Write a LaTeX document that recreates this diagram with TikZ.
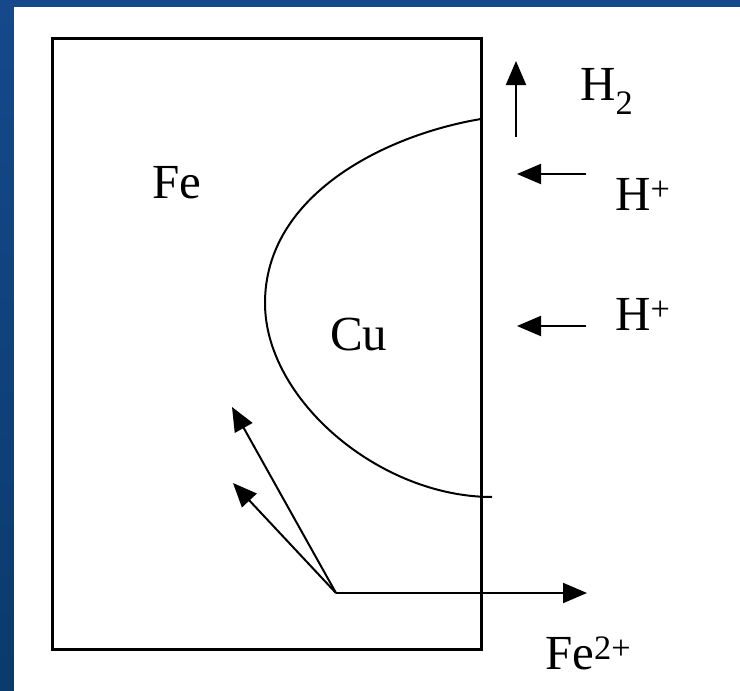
\documentclass[tikz,border=0pt]{standalone}
\usepackage{fontspec}
\setmainfont{Liberation Serif}
\usetikzlibrary{arrows.meta}
\definecolor{bgblue}{HTML}{15498B}
\definecolor{bgdark}{HTML}{0B3A6C}
\tikzset{
  lbl/.style={anchor=base west, inner sep=0pt, font=\fontsize{49}{60}\selectfont},
  arr/.style={line width=2pt, -{Triangle[length=24pt, width=20pt]}},
  wall/.style={line width=2.6pt},
  curve/.style={line width=2pt}
}
\begin{document}
\begin{tikzpicture}[x=1pt,y=-1pt]
\useasboundingbox (0,0) rectangle (740,691);
\shade[top color=bgblue, bottom color=bgdark] (0,0) rectangle (740,691);
\fill[white] (14,7) rectangle (740,691);
% metal block
\node[wall, draw, minimum width=429pt, minimum height=611pt, inner sep=0pt, anchor=north west] (block) at (51,37) {};
% Cu region boundary
\coordinate (ctop) at (481,119);
\coordinate (cleft) at (265,303);
\coordinate (cbot) at (492,497);
\draw[curve] (ctop) .. controls (385,135) and (265,195) .. (cleft)
  .. controls (265,400) and (380,497) .. (cbot);
% labels
\node[lbl] (fe) at (152,198) {Fe};
\node[lbl] (cu) at (330,350) {Cu};
\node[lbl] (h2) at (580,100) {H\textsubscript{2}};
\node[lbl] (hp1) at (615,210) {H\textsuperscript{+}};
\node[lbl] (hp2) at (615,330) {H\textsuperscript{+}};
\node[lbl] (fe2) at (545,669) {Fe\textsuperscript{2+}};
% arrows
\coordinate (h2s) at (516,137);
\coordinate (h2e) at (516,61);
\draw[arr] (h2s) -- (h2e);
\coordinate (hp1s) at (586,174);
\coordinate (hp1e) at (517,174);
\draw[arr] (hp1s) -- (hp1e);
\coordinate (hp2s) at (586,326);
\coordinate (hp2e) at (517,326);
\draw[arr] (hp2s) -- (hp2e);
\coordinate (o) at (336,593);
\coordinate (fa) at (232,407);
\coordinate (fb) at (233,483);
\coordinate (fc) at (587,593);
\draw[arr] (o) -- (fa);
\draw[arr] (o) -- (fb);
\draw[arr] (o) -- (fc);
\end{tikzpicture}
\end{document}
